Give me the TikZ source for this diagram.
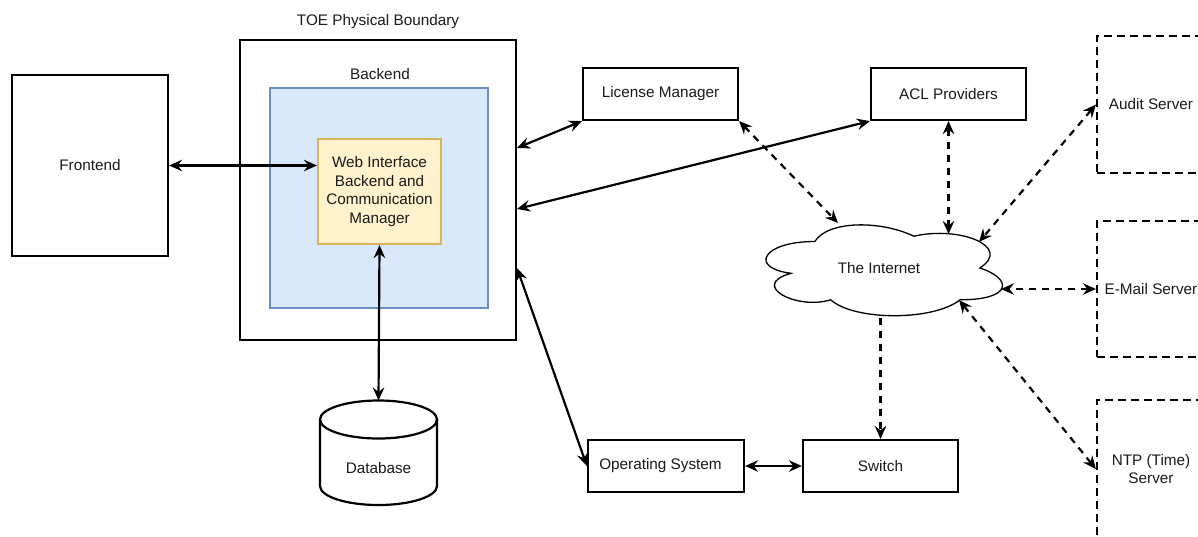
\documentclass[tikz,border=0pt]{standalone}
\usepackage{fontspec}
\setmainfont{Liberation Sans}
\usetikzlibrary{arrows.meta,calc}
\definecolor{bfill}{HTML}{DAE8FC}
\definecolor{bline}{HTML}{6C8EBF}
\definecolor{yfill}{HTML}{FFF2CC}
\definecolor{yline}{HTML}{D6B656}
\definecolor{txt}{HTML}{1A1A1A}
\newcommand\dgfont{\fontsize{15.3}{18.7}\selectfont}
\begin{document}
\begin{tikzpicture}[x=1pt,y=1pt,
  every node/.style={font=\dgfont, text=txt},
  box/.style={draw, line width=2.2pt, fill=white, inner sep=0pt, align=center},
  dbox/.style={draw, line width=2.2pt, dash pattern=on 8pt off 5pt, inner sep=0pt, align=center},
  lbl/.style={inner sep=0pt},
  sarr/.style={line width=2.2pt, {Stealth[length=13pt,width=11.5pt,inset=4.5pt]}-{Stealth[length=13pt,width=11.5pt,inset=4.5pt]}},
  darr/.style={line width=2.2pt, dash pattern=on 7pt off 6pt, {Stealth[length=13pt,width=11.5pt,inset=4.5pt]}-{Stealth[length=13pt,width=11.5pt,inset=4.5pt]}},
  darrone/.style={line width=2.2pt, dash pattern=on 7pt off 6pt, -{Stealth[length=13pt,width=11.5pt,inset=4.5pt]}},
]
\useasboundingbox (0,0) rectangle (1198,-536);
\clip (0,0) rectangle (1198,-536);

% Frontend
\node[box, minimum width=156pt, minimum height=181pt] (fe) at (90,-165.5) {Frontend};

% TOE boundary
\node[lbl] (toelbl) at (378,-22) {TOE Physical Boundary};
\node[box, minimum width=276pt, minimum height=300pt] (toe) at (378,-190) {};
\node[lbl] (belbl) at (380,-74) {Backend};
\node[draw=bline, fill=bfill, line width=2.2pt, minimum width=218pt, minimum height=220pt, inner sep=0pt] (be) at (379,-198) {};
\node[draw=yline, fill=yfill, line width=2.2pt, minimum width=123pt, minimum height=105pt, inner sep=0pt, align=center] (web) at (379.5,-191.5) {Web Interface\\Backend and\\Communication\\Manager};

% Database cylinder
\coordinate (dbtop) at (378.5,-400.5);
\fill[white] (320,-419.5) -- (320,-486) arc[start angle=180,end angle=360,x radius=58.5pt,y radius=19pt] -- (437,-419.5) arc[start angle=0,end angle=180,x radius=58.5pt,y radius=19pt] -- cycle;
\draw[line width=2.2pt] (320,-419.5) -- (320,-486) arc[start angle=180,end angle=360,x radius=58.5pt,y radius=19pt] -- (437,-419.5);
\draw[line width=2.2pt] (378.5,-419.5) ellipse [x radius=58.5pt, y radius=19pt];
\node[lbl] (db) at (378.5,-468) {Database};

% Right-hand boxes
\node[box, minimum width=155pt, minimum height=52pt] (lm) at (660.5,-94) {License Manager};
\node[box, minimum width=155pt, minimum height=52pt] (acl) at (948.5,-94) {ACL Providers};
\node[box, minimum width=156pt, minimum height=52pt] (os) at (666,-466) {};
\node[lbl] (ostext) at (660.5,-466) {Operating System};
\node[box, minimum width=155pt, minimum height=52pt] (sw) at (880.5,-466) {Switch};

% External servers (dashed, cut by the page edge)
\node[dbox, minimum width=108pt, minimum height=137pt] (audit) at (1151,-104.5) {Audit Server};
\node[dbox, minimum width=108pt, minimum height=136pt] (email) at (1151,-289) {E-Mail Server};
\node[dbox, minimum width=108pt, minimum height=138pt] (ntp) at (1151,-469) {NTP (Time)\\Server};

% Cloud
\begin{scope}[shift={(748.8,-215)}, x=264pt, y=-106pt]
\draw[line width=1.3pt, fill=white]
  (0.25,0.25) .. controls (0.05,0.25) and (0,0.5) .. (0.16,0.55)
  .. controls (0,0.66) and (0.18,0.9) .. (0.31,0.8)
  .. controls (0.4,1) and (0.7,1) .. (0.8,0.8)
  .. controls (1,0.8) and (1,0.6) .. (0.875,0.5)
  .. controls (1,0.3) and (0.8,0.1) .. (0.625,0.2)
  .. controls (0.5,0.05) and (0.3,0.05) .. (0.25,0.25) -- cycle;
\end{scope}
\node[lbl] (net) at (879,-268) {The Internet};
\coordinate (cLM) at (838,-223);
\coordinate (cACL) at (948.5,-234);
\coordinate (cAud) at (979,-242);
\coordinate (cMail) at (1001,-289);
\coordinate (cNTP) at (959,-300);
\coordinate (cSw) at (880.5,-318);

% TOE side attachment points
\coordinate (t1) at (517,-148);
\coordinate (t2) at (517,-209);
\coordinate (t3) at (517,-268);

% Solid connectors
\draw[sarr] (fe.east) -- (fe.east -| web.west);
\draw[sarr] (web.south) -- (dbtop);
\draw[sarr] (t1) -- (lm.south west);
\draw[sarr] (t2) -- (acl.south west);
\draw[sarr] (t3) -- (os.west);
\draw[sarr] (os.east) -- (sw.west);

% Dashed connectors
\draw[darr] (lm.south east) -- (cLM);
\draw[darr] (acl.south) -- (cACL);
\draw[darr] (audit.west) -- (cAud);
\draw[darr] (email.west) -- (cMail);
\draw[darr] (ntp.west) -- (cNTP);
\draw[darrone] (cSw) -- (sw.north);
\end{tikzpicture}
\end{document}
